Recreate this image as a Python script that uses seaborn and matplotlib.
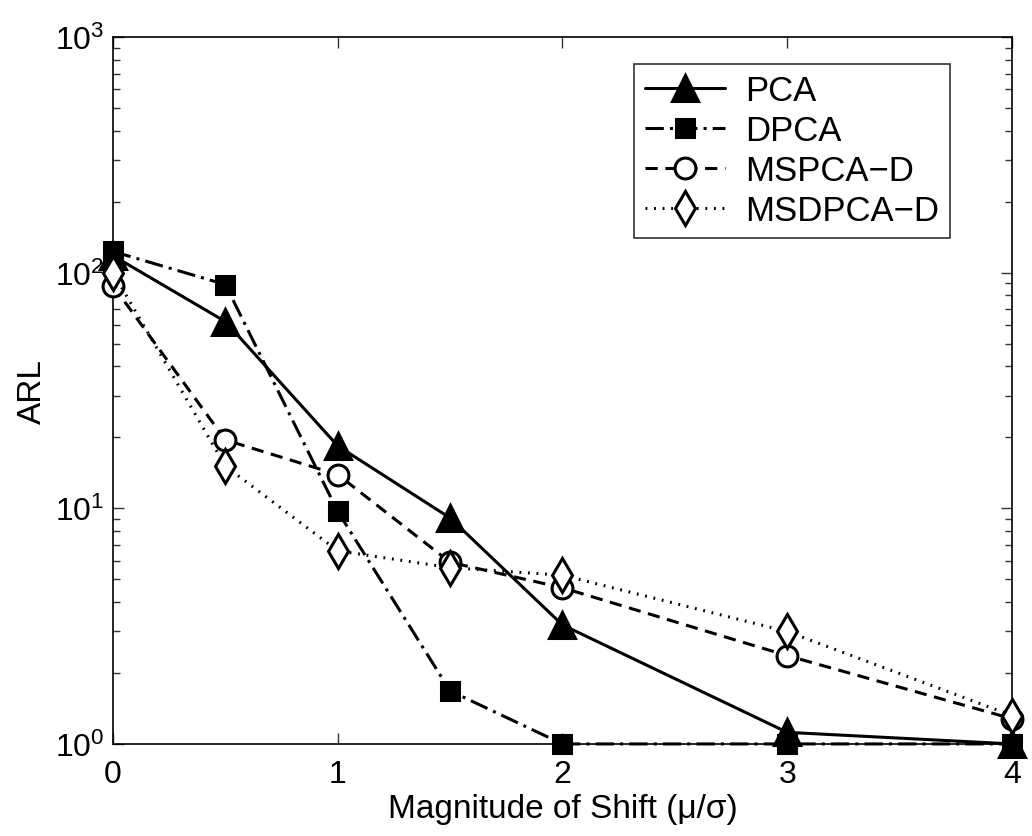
import numpy as np
import pandas as pd
import matplotlib
matplotlib.use('Agg')
import matplotlib.pyplot as plt
import seaborn as sns

# data
shift = [0, 0.5, 1, 1.5, 2, 3, 4]
arl_pca = [118, 62, 18.4, 9.1, 3.2, 1.12, 1.0]
arl_dpca = [123, 89, 9.7, 1.68, 1.0, 1.0, 1.0]
arl_mspca_d = [88, 19.5, 13.9, 5.9, 4.6, 2.37, 1.28]
arl_msdpca_d = [100, 15.1, 6.6, 5.6, 5.2, 3.0, 1.32]
names = ['PCA', 'DPCA', 'MSPCA\u2212D', 'MSDPCA\u2212D']

sns.set_style('ticks')
plt.rcParams['font.family'] = ['Liberation Sans', 'DejaVu Sans']
plt.rcParams['mathtext.fontset'] = 'custom'
plt.rcParams['mathtext.rm'] = 'Liberation Sans'
plt.rcParams['xtick.direction'] = 'in'
plt.rcParams['ytick.direction'] = 'in'
plt.rcParams['text.color'] = 'black'
plt.rcParams['axes.labelcolor'] = 'black'
plt.rcParams['xtick.labelcolor'] = 'black'
plt.rcParams['ytick.labelcolor'] = 'black'

df = pd.DataFrame({'shift': shift * 4,
                   'ARL': arl_pca + arl_dpca + arl_mspca_d + arl_msdpca_d,
                   'method': np.repeat(names, len(shift))})

styles = {
    'PCA': dict(ls='-', marker='^', ms=19, mfc='black'),
    'DPCA': dict(ls=(0, (6, 2, 1, 2)), marker='s', ms=13, mfc='black'),
    'MSPCA\u2212D': dict(ls=(0, (4, 2.5)), marker='o', ms=15, mfc='white'),
    'MSDPCA\u2212D': dict(ls=(0, (0.6, 2.2)), marker='d', ms=17, mfc='white'),
}

fig = plt.figure(figsize=(10.32, 8.37), dpi=100)
ax = fig.add_axes([0.1095, 0.11, 0.871, 0.8446])

for name in names:
    st = styles[name]
    sns.lineplot(data=df[df['method'] == name], x='shift', y='ARL', ax=ax,
                 color='black', linewidth=2.2, linestyle=st['ls'],
                 marker=st['marker'], markersize=st['ms'],
                 markerfacecolor=st['mfc'], markeredgecolor='black',
                 markeredgewidth=2.2, label=name, clip_on=False, zorder=3)

ax.set_yscale('log')
ax.set_xlim(0, 4)
ax.set_ylim(1, 1000)
ax.set_xticks([0, 1, 2, 3, 4])
ax.tick_params(which='both', top=True, right=True, labelsize=23,
               width=1, color='#333333')
ax.tick_params(which='major', length=8)
ax.tick_params(which='minor', length=5)
ax.tick_params(axis='x', pad=11)
ax.tick_params(axis='y', pad=6)
for sp in ax.spines.values():
    sp.set_linewidth(1.2)
    sp.set_color('black')

ax.set_xlabel('Magnitude of Shift (\u03bc/\u03c3)', fontsize=24, labelpad=3)
ax.set_ylabel('ARL', fontsize=24, labelpad=5)

leg = ax.legend(loc='upper right', bbox_to_anchor=(950 / 1032, 1 - 65 / 837),
                bbox_transform=fig.transFigure, borderaxespad=0,
                fontsize=25, frameon=True, fancybox=False, edgecolor='black',
                handlelength=2.3, labelspacing=0.2, borderpad=0.3,
                handletextpad=0.6)
leg.get_frame().set_linewidth(1.2)

fig.savefig('out.png', dpi=100)
